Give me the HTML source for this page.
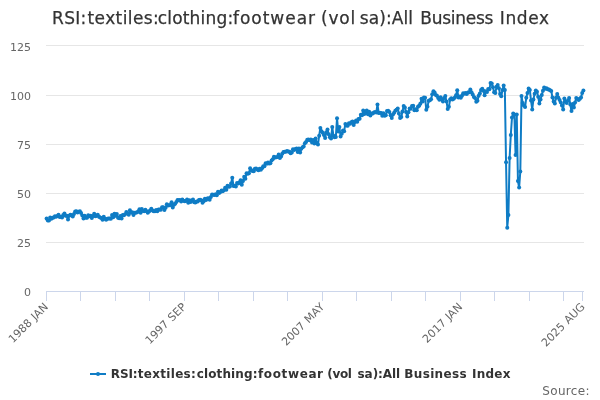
<!DOCTYPE html>
<html><head><meta charset="utf-8"><title>RSI:textiles:clothing:footwear (vol sa):All Business Index</title>
<style>
html,body{margin:0;padding:0;background:#fff;}
svg{display:block;font-family:"DejaVu Sans","Liberation Sans",sans-serif;}
</style></head><body>
<svg width="600" height="400" viewBox="0 0 600 400">
<rect width="600" height="400" fill="#ffffff"/>
<path d="M46 45.5H584M46 95.5H584M46 144.5H584M46 193.5H584M46 242.5H584" stroke="#e6e6e6" stroke-width="1" fill="none"/>
<path d="M46 291.5H584" stroke="#ccd6eb" stroke-width="1" fill="none"/>
<path d="M46.5 291.5V301M80.5 291.5V301M115.5 291.5V301M149.5 291.5V301M184.5 291.5V301M218.5 291.5V301M253.5 291.5V301M287.5 291.5V301M322.5 291.5V301M356.5 291.5V301M391.5 291.5V301M425.5 291.5V301M460.5 291.5V301M494.5 291.5V301M529.5 291.5V301M563.5 291.5V301M582.5 291.5V301" stroke="#ccd6eb" stroke-width="1" fill="none"/>
<g font-size="17" fill="#333333" stroke="#333333" stroke-width="0.25"><text x="52" y="24" letter-spacing="0.333">RSI:</text><text x="87.5" y="24" letter-spacing="0.4">textiles:</text><text x="157.7" y="24" letter-spacing="0.2">clothing:</text><text x="233" y="24" letter-spacing="0.971">footwear</text><text x="321" y="24" letter-spacing="0.767">(vol</text><text x="359.8" y="24" letter-spacing="0.083">sa):All</text><text x="420.3" y="24" letter-spacing="-0.257">Business</text><text x="499.8" y="24" letter-spacing="0.625">Index</text></g>
<g font-size="11" fill="#666666"><text x="31" y="51" text-anchor="end">125</text><text x="31" y="100" text-anchor="end">100</text><text x="31" y="149" text-anchor="end">75</text><text x="31" y="198" text-anchor="end">50</text><text x="31" y="247" text-anchor="end">25</text><text x="31" y="296" text-anchor="end">0</text></g>
<g font-size="11" fill="#666666"><text x="48.8" y="307.5" text-anchor="end" word-spacing="0.5" transform="rotate(-45 48.8 307.5)">1988 JAN</text><text x="186.87" y="307.5" text-anchor="end" word-spacing="0.5" transform="rotate(-45 186.87 307.5)">1997 SEP</text><text x="324.94" y="307.5" text-anchor="end" word-spacing="0.5" transform="rotate(-45 324.94 307.5)">2007 MAY</text><text x="463.01" y="307.5" text-anchor="end" word-spacing="0.5" transform="rotate(-45 463.01 307.5)">2017 JAN</text><text x="585.6" y="307.5" text-anchor="end" word-spacing="0.5" transform="rotate(-45 585.6 307.5)">2025 AUG</text></g>
<path d="M46.6 218.5 L47.79 220.5 L48.98 220.38 L50.17 217.55 L51.36 218.75 L52.55 217.86 L53.74 217.53 L54.93 216.25 L56.12 216.76 L57.31 216.02 L58.5 214.68 L59.69 217.05 L60.88 216.65 L62.07 217.42 L63.26 215.07 L64.45 213.5 L65.64 215.67 L66.83 215.78 L68.02 219.46 L69.21 215.79 L70.4 214.73 L71.59 215.18 L72.78 216.53 L73.97 214.02 L75.16 211.47 L76.35 211.25 L77.54 212.51 L78.73 211.82 L79.92 211.37 L81.11 212.94 L82.3 215.61 L83.49 218.54 L84.68 215.69 L85.87 217.74 L87.06 217.79 L88.25 215.2 L89.44 216.17 L90.63 215.65 L91.83 218.0 L93.02 216.04 L94.21 213.79 L95.4 216.36 L96.59 215.69 L97.78 214.63 L98.97 216.81 L100.16 217.54 L101.35 217.88 L102.54 219.76 L103.73 216.8 L104.92 218.7 L106.11 219.72 L107.3 218.63 L108.49 218.43 L109.68 218.45 L110.87 218.77 L112.06 214.93 L113.25 217.14 L114.44 213.83 L115.63 215.66 L116.82 214.02 L118.01 217.86 L119.2 218.21 L120.39 216.12 L121.58 218.58 L122.77 215.11 L123.96 215.27 L125.15 214.35 L126.34 211.94 L127.53 213.29 L128.72 214.64 L129.91 210.16 L131.1 212.81 L132.29 212.29 L133.48 215.07 L134.67 212.8 L135.87 212.67 L137.06 212.33 L138.25 211.51 L139.44 209.13 L140.63 212.66 L141.82 208.92 L143.01 210.91 L144.2 211.35 L145.39 209.68 L146.58 211.21 L147.77 212.79 L148.96 211.46 L150.15 210.43 L151.34 208.81 L152.53 210.54 L153.72 211.15 L154.91 211.14 L156.1 210.02 L157.29 211.26 L158.48 209.47 L159.67 209.48 L160.86 209.87 L162.05 207.17 L163.24 207.25 L164.43 209.95 L165.62 207.72 L166.81 204.31 L168.0 205.39 L169.19 205.19 L170.38 205.02 L171.57 202.2 L172.76 207.5 L173.95 204.64 L175.14 203.7 L176.33 201.88 L177.52 199.98 L178.71 200.36 L179.9 200.0 L181.1 201.46 L182.29 199.39 L183.48 200.8 L184.67 201.19 L185.86 201.04 L187.05 199.61 L188.24 202.84 L189.43 200.27 L190.62 201.9 L191.81 200.46 L193.0 199.39 L194.19 202.31 L195.38 202.44 L196.57 201.47 L197.76 201.47 L198.95 199.97 L200.14 199.65 L201.33 200.22 L202.52 202.83 L203.71 201.15 L204.9 198.84 L206.09 200.1 L207.28 198.48 L208.47 198.23 L209.66 199.75 L210.85 197.1 L212.04 194.57 L213.23 194.67 L214.42 195.08 L215.61 194.31 L216.8 195.13 L217.99 191.72 L219.18 193.0 L220.37 191.9 L221.56 190.51 L222.75 191.28 L223.94 190.21 L225.13 187.72 L226.33 189.66 L227.52 185.73 L228.71 186.77 L229.9 186.5 L231.09 183.53 L232.28 177.7 L233.47 186.0 L234.66 185.69 L235.85 186.44 L237.04 183.07 L238.23 183.49 L239.42 182.42 L240.61 180.36 L241.8 184.71 L242.99 180.9 L244.18 176.83 L245.37 178.85 L246.56 173.25 L247.75 173.78 L248.94 173.29 L250.13 168.25 L251.32 170.25 L252.51 171.06 L253.7 171.25 L254.89 168.71 L256.08 168.58 L257.27 169.43 L258.46 170.22 L259.65 168.69 L260.84 169.85 L262.03 168.16 L263.22 166.19 L264.41 166.35 L265.6 163.19 L266.79 163.81 L267.98 162.53 L269.17 163.55 L270.37 163.24 L271.56 160.45 L272.75 159.37 L273.94 156.66 L275.13 157.44 L276.32 157.32 L277.51 156.93 L278.7 154.55 L279.89 158.1 L281.08 156.4 L282.27 153.63 L283.46 152.12 L284.65 151.7 L285.84 151.8 L287.03 150.97 L288.22 151.41 L289.41 151.85 L290.6 153.33 L291.79 152.42 L292.98 149.36 L294.17 150.08 L295.36 148.92 L296.55 148.54 L297.74 152.11 L298.93 148.39 L300.12 152.4 L301.31 148.85 L302.5 147.37 L303.69 146.6 L304.88 143.21 L306.07 141.98 L307.26 139.68 L308.45 139.53 L309.64 140.19 L310.83 139.39 L312.02 142.61 L313.21 139.89 L314.4 143.52 L315.6 138.43 L316.79 143.34 L317.98 144.5 L319.17 135.73 L320.36 128.0 L321.55 131.16 L322.74 132.82 L323.93 135.08 L325.12 138.0 L326.31 132.31 L327.5 129.5 L328.69 134.21 L329.88 137.15 L331.07 138.5 L332.26 127.0 L333.45 135.84 L334.64 137.36 L335.83 137.0 L337.02 118.2 L338.21 131.54 L339.4 127.0 L340.59 136.47 L341.78 133.64 L342.97 130.53 L344.16 131.2 L345.35 123.92 L346.54 125.41 L347.73 125.76 L348.92 123.28 L350.11 123.7 L351.3 122.26 L352.49 121.52 L353.68 125.09 L354.87 122.02 L356.06 120.39 L357.25 121.85 L358.44 118.92 L359.63 118.74 L360.83 114.65 L362.02 115.21 L363.21 110.44 L364.4 114.11 L365.59 112.46 L366.78 110.5 L367.97 114.19 L369.16 111.64 L370.35 115.55 L371.54 113.61 L372.73 113.61 L373.92 112.39 L375.11 112.0 L376.3 112.5 L377.49 104.5 L378.68 113.0 L379.87 112.8 L381.06 113.04 L382.25 115.7 L383.44 113.24 L384.63 115.73 L385.82 115.33 L387.01 111.04 L388.2 110.65 L389.39 112.05 L390.58 115.14 L391.77 118.0 L392.96 114.53 L394.15 112.83 L395.34 110.7 L396.53 109.64 L397.72 108.41 L398.91 113.4 L400.1 118.0 L401.29 117.08 L402.48 111.42 L403.67 106.0 L404.87 107.59 L406.06 111.88 L407.25 116.5 L408.44 112.27 L409.63 108.55 L410.82 108.73 L412.01 106.0 L413.2 105.71 L414.39 110.32 L415.58 109.21 L416.77 110.24 L417.96 106.64 L419.15 105.72 L420.34 103.73 L421.53 98.87 L422.72 101.56 L423.91 97.39 L425.1 97.85 L426.29 109.7 L427.48 106.86 L428.67 100.8 L429.86 100.37 L431.05 99.23 L432.24 94.15 L433.43 91.16 L434.62 92.5 L435.81 95.06 L437.0 95.64 L438.19 98.04 L439.38 99.63 L440.57 97.23 L441.76 99.43 L442.95 101.47 L444.14 97.96 L445.33 96.11 L446.52 101.45 L447.71 109.0 L448.9 106.84 L450.1 99.54 L451.29 98.28 L452.48 99.6 L453.67 98.84 L454.86 97.43 L456.05 95.17 L457.24 90.2 L458.43 97.5 L459.62 96.39 L460.81 97.8 L462.0 95.82 L463.19 93.13 L464.38 93.85 L465.57 93.11 L466.76 93.98 L467.95 92.41 L469.14 92.22 L470.33 89.59 L471.52 92.28 L472.71 94.62 L473.9 97.11 L475.09 98.02 L476.28 101.76 L477.47 100.7 L478.66 95.71 L479.85 93.4 L481.04 89.89 L482.23 88.7 L483.42 90.69 L484.61 95.22 L485.8 91.37 L486.99 92.11 L488.18 89.02 L489.37 89.36 L490.56 83.12 L491.75 83.5 L492.94 87.14 L494.13 92.28 L495.33 92.95 L496.52 86.76 L497.71 85.0 L498.9 88.26 L500.09 94.12 L501.28 96.2 L502.47 90.0 L503.66 85.5 L504.85 89.98 L506.04 162.2 L507.23 227.74 L508.42 214.94 L509.61 158.07 L510.8 135.04 L511.99 117.53 L513.18 113.59 L514.37 114.38 L515.56 154.92 L516.75 114.58 L517.94 181.1 L519.13 187.59 L520.32 171.45 L521.51 96.08 L522.7 102.97 L523.89 105.52 L525.08 107.1 L526.27 97.65 L527.46 92.93 L528.65 88.4 L529.84 89.98 L531.03 100.6 L532.22 109.46 L533.41 99.62 L534.6 93.72 L535.79 90.57 L536.98 91.75 L538.17 96.67 L539.37 103.56 L540.56 99.62 L541.75 95.09 L542.94 90.76 L544.13 87.42 L545.32 88.8 L546.51 88.21 L547.7 89.19 L548.89 89.58 L550.08 90.37 L551.27 90.96 L552.46 97.46 L553.65 101.59 L554.84 103.56 L556.03 97.65 L557.22 94.11 L558.41 97.65 L559.6 100.01 L560.79 102.57 L561.98 105.52 L563.17 109.46 L564.36 98.44 L565.55 101.59 L566.74 102.97 L567.93 100.6 L569.12 98.05 L570.31 104.54 L571.5 111.03 L572.69 103.95 L573.88 107.49 L575.07 102.57 L576.26 98.05 L577.45 99.03 L578.64 100.01 L579.83 98.64 L581.02 97.46 L582.21 92.93 L583.4 90.57" stroke="#0f7cc5" stroke-width="2" fill="none" stroke-linejoin="round" stroke-linecap="round"/>
<g fill="#0f7cc5"><circle cx="46.6" cy="218.5" r="2"/><circle cx="47.79" cy="220.5" r="2"/><circle cx="48.98" cy="220.38" r="2"/><circle cx="50.17" cy="217.55" r="2"/><circle cx="51.36" cy="218.75" r="2"/><circle cx="52.55" cy="217.86" r="2"/><circle cx="53.74" cy="217.53" r="2"/><circle cx="54.93" cy="216.25" r="2"/><circle cx="56.12" cy="216.76" r="2"/><circle cx="57.31" cy="216.02" r="2"/><circle cx="58.5" cy="214.68" r="2"/><circle cx="59.69" cy="217.05" r="2"/><circle cx="60.88" cy="216.65" r="2"/><circle cx="62.07" cy="217.42" r="2"/><circle cx="63.26" cy="215.07" r="2"/><circle cx="64.45" cy="213.5" r="2"/><circle cx="65.64" cy="215.67" r="2"/><circle cx="66.83" cy="215.78" r="2"/><circle cx="68.02" cy="219.46" r="2"/><circle cx="69.21" cy="215.79" r="2"/><circle cx="70.4" cy="214.73" r="2"/><circle cx="71.59" cy="215.18" r="2"/><circle cx="72.78" cy="216.53" r="2"/><circle cx="73.97" cy="214.02" r="2"/><circle cx="75.16" cy="211.47" r="2"/><circle cx="76.35" cy="211.25" r="2"/><circle cx="77.54" cy="212.51" r="2"/><circle cx="78.73" cy="211.82" r="2"/><circle cx="79.92" cy="211.37" r="2"/><circle cx="81.11" cy="212.94" r="2"/><circle cx="82.3" cy="215.61" r="2"/><circle cx="83.49" cy="218.54" r="2"/><circle cx="84.68" cy="215.69" r="2"/><circle cx="85.87" cy="217.74" r="2"/><circle cx="87.06" cy="217.79" r="2"/><circle cx="88.25" cy="215.2" r="2"/><circle cx="89.44" cy="216.17" r="2"/><circle cx="90.63" cy="215.65" r="2"/><circle cx="91.83" cy="218.0" r="2"/><circle cx="93.02" cy="216.04" r="2"/><circle cx="94.21" cy="213.79" r="2"/><circle cx="95.4" cy="216.36" r="2"/><circle cx="96.59" cy="215.69" r="2"/><circle cx="97.78" cy="214.63" r="2"/><circle cx="98.97" cy="216.81" r="2"/><circle cx="100.16" cy="217.54" r="2"/><circle cx="101.35" cy="217.88" r="2"/><circle cx="102.54" cy="219.76" r="2"/><circle cx="103.73" cy="216.8" r="2"/><circle cx="104.92" cy="218.7" r="2"/><circle cx="106.11" cy="219.72" r="2"/><circle cx="107.3" cy="218.63" r="2"/><circle cx="108.49" cy="218.43" r="2"/><circle cx="109.68" cy="218.45" r="2"/><circle cx="110.87" cy="218.77" r="2"/><circle cx="112.06" cy="214.93" r="2"/><circle cx="113.25" cy="217.14" r="2"/><circle cx="114.44" cy="213.83" r="2"/><circle cx="115.63" cy="215.66" r="2"/><circle cx="116.82" cy="214.02" r="2"/><circle cx="118.01" cy="217.86" r="2"/><circle cx="119.2" cy="218.21" r="2"/><circle cx="120.39" cy="216.12" r="2"/><circle cx="121.58" cy="218.58" r="2"/><circle cx="122.77" cy="215.11" r="2"/><circle cx="123.96" cy="215.27" r="2"/><circle cx="125.15" cy="214.35" r="2"/><circle cx="126.34" cy="211.94" r="2"/><circle cx="127.53" cy="213.29" r="2"/><circle cx="128.72" cy="214.64" r="2"/><circle cx="129.91" cy="210.16" r="2"/><circle cx="131.1" cy="212.81" r="2"/><circle cx="132.29" cy="212.29" r="2"/><circle cx="133.48" cy="215.07" r="2"/><circle cx="134.67" cy="212.8" r="2"/><circle cx="135.87" cy="212.67" r="2"/><circle cx="137.06" cy="212.33" r="2"/><circle cx="138.25" cy="211.51" r="2"/><circle cx="139.44" cy="209.13" r="2"/><circle cx="140.63" cy="212.66" r="2"/><circle cx="141.82" cy="208.92" r="2"/><circle cx="143.01" cy="210.91" r="2"/><circle cx="144.2" cy="211.35" r="2"/><circle cx="145.39" cy="209.68" r="2"/><circle cx="146.58" cy="211.21" r="2"/><circle cx="147.77" cy="212.79" r="2"/><circle cx="148.96" cy="211.46" r="2"/><circle cx="150.15" cy="210.43" r="2"/><circle cx="151.34" cy="208.81" r="2"/><circle cx="152.53" cy="210.54" r="2"/><circle cx="153.72" cy="211.15" r="2"/><circle cx="154.91" cy="211.14" r="2"/><circle cx="156.1" cy="210.02" r="2"/><circle cx="157.29" cy="211.26" r="2"/><circle cx="158.48" cy="209.47" r="2"/><circle cx="159.67" cy="209.48" r="2"/><circle cx="160.86" cy="209.87" r="2"/><circle cx="162.05" cy="207.17" r="2"/><circle cx="163.24" cy="207.25" r="2"/><circle cx="164.43" cy="209.95" r="2"/><circle cx="165.62" cy="207.72" r="2"/><circle cx="166.81" cy="204.31" r="2"/><circle cx="168.0" cy="205.39" r="2"/><circle cx="169.19" cy="205.19" r="2"/><circle cx="170.38" cy="205.02" r="2"/><circle cx="171.57" cy="202.2" r="2"/><circle cx="172.76" cy="207.5" r="2"/><circle cx="173.95" cy="204.64" r="2"/><circle cx="175.14" cy="203.7" r="2"/><circle cx="176.33" cy="201.88" r="2"/><circle cx="177.52" cy="199.98" r="2"/><circle cx="178.71" cy="200.36" r="2"/><circle cx="179.9" cy="200.0" r="2"/><circle cx="181.1" cy="201.46" r="2"/><circle cx="182.29" cy="199.39" r="2"/><circle cx="183.48" cy="200.8" r="2"/><circle cx="184.67" cy="201.19" r="2"/><circle cx="185.86" cy="201.04" r="2"/><circle cx="187.05" cy="199.61" r="2"/><circle cx="188.24" cy="202.84" r="2"/><circle cx="189.43" cy="200.27" r="2"/><circle cx="190.62" cy="201.9" r="2"/><circle cx="191.81" cy="200.46" r="2"/><circle cx="193.0" cy="199.39" r="2"/><circle cx="194.19" cy="202.31" r="2"/><circle cx="195.38" cy="202.44" r="2"/><circle cx="196.57" cy="201.47" r="2"/><circle cx="197.76" cy="201.47" r="2"/><circle cx="198.95" cy="199.97" r="2"/><circle cx="200.14" cy="199.65" r="2"/><circle cx="201.33" cy="200.22" r="2"/><circle cx="202.52" cy="202.83" r="2"/><circle cx="203.71" cy="201.15" r="2"/><circle cx="204.9" cy="198.84" r="2"/><circle cx="206.09" cy="200.1" r="2"/><circle cx="207.28" cy="198.48" r="2"/><circle cx="208.47" cy="198.23" r="2"/><circle cx="209.66" cy="199.75" r="2"/><circle cx="210.85" cy="197.1" r="2"/><circle cx="212.04" cy="194.57" r="2"/><circle cx="213.23" cy="194.67" r="2"/><circle cx="214.42" cy="195.08" r="2"/><circle cx="215.61" cy="194.31" r="2"/><circle cx="216.8" cy="195.13" r="2"/><circle cx="217.99" cy="191.72" r="2"/><circle cx="219.18" cy="193.0" r="2"/><circle cx="220.37" cy="191.9" r="2"/><circle cx="221.56" cy="190.51" r="2"/><circle cx="222.75" cy="191.28" r="2"/><circle cx="223.94" cy="190.21" r="2"/><circle cx="225.13" cy="187.72" r="2"/><circle cx="226.33" cy="189.66" r="2"/><circle cx="227.52" cy="185.73" r="2"/><circle cx="228.71" cy="186.77" r="2"/><circle cx="229.9" cy="186.5" r="2"/><circle cx="231.09" cy="183.53" r="2"/><circle cx="232.28" cy="177.7" r="2"/><circle cx="233.47" cy="186.0" r="2"/><circle cx="234.66" cy="185.69" r="2"/><circle cx="235.85" cy="186.44" r="2"/><circle cx="237.04" cy="183.07" r="2"/><circle cx="238.23" cy="183.49" r="2"/><circle cx="239.42" cy="182.42" r="2"/><circle cx="240.61" cy="180.36" r="2"/><circle cx="241.8" cy="184.71" r="2"/><circle cx="242.99" cy="180.9" r="2"/><circle cx="244.18" cy="176.83" r="2"/><circle cx="245.37" cy="178.85" r="2"/><circle cx="246.56" cy="173.25" r="2"/><circle cx="247.75" cy="173.78" r="2"/><circle cx="248.94" cy="173.29" r="2"/><circle cx="250.13" cy="168.25" r="2"/><circle cx="251.32" cy="170.25" r="2"/><circle cx="252.51" cy="171.06" r="2"/><circle cx="253.7" cy="171.25" r="2"/><circle cx="254.89" cy="168.71" r="2"/><circle cx="256.08" cy="168.58" r="2"/><circle cx="257.27" cy="169.43" r="2"/><circle cx="258.46" cy="170.22" r="2"/><circle cx="259.65" cy="168.69" r="2"/><circle cx="260.84" cy="169.85" r="2"/><circle cx="262.03" cy="168.16" r="2"/><circle cx="263.22" cy="166.19" r="2"/><circle cx="264.41" cy="166.35" r="2"/><circle cx="265.6" cy="163.19" r="2"/><circle cx="266.79" cy="163.81" r="2"/><circle cx="267.98" cy="162.53" r="2"/><circle cx="269.17" cy="163.55" r="2"/><circle cx="270.37" cy="163.24" r="2"/><circle cx="271.56" cy="160.45" r="2"/><circle cx="272.75" cy="159.37" r="2"/><circle cx="273.94" cy="156.66" r="2"/><circle cx="275.13" cy="157.44" r="2"/><circle cx="276.32" cy="157.32" r="2"/><circle cx="277.51" cy="156.93" r="2"/><circle cx="278.7" cy="154.55" r="2"/><circle cx="279.89" cy="158.1" r="2"/><circle cx="281.08" cy="156.4" r="2"/><circle cx="282.27" cy="153.63" r="2"/><circle cx="283.46" cy="152.12" r="2"/><circle cx="284.65" cy="151.7" r="2"/><circle cx="285.84" cy="151.8" r="2"/><circle cx="287.03" cy="150.97" r="2"/><circle cx="288.22" cy="151.41" r="2"/><circle cx="289.41" cy="151.85" r="2"/><circle cx="290.6" cy="153.33" r="2"/><circle cx="291.79" cy="152.42" r="2"/><circle cx="292.98" cy="149.36" r="2"/><circle cx="294.17" cy="150.08" r="2"/><circle cx="295.36" cy="148.92" r="2"/><circle cx="296.55" cy="148.54" r="2"/><circle cx="297.74" cy="152.11" r="2"/><circle cx="298.93" cy="148.39" r="2"/><circle cx="300.12" cy="152.4" r="2"/><circle cx="301.31" cy="148.85" r="2"/><circle cx="302.5" cy="147.37" r="2"/><circle cx="303.69" cy="146.6" r="2"/><circle cx="304.88" cy="143.21" r="2"/><circle cx="306.07" cy="141.98" r="2"/><circle cx="307.26" cy="139.68" r="2"/><circle cx="308.45" cy="139.53" r="2"/><circle cx="309.64" cy="140.19" r="2"/><circle cx="310.83" cy="139.39" r="2"/><circle cx="312.02" cy="142.61" r="2"/><circle cx="313.21" cy="139.89" r="2"/><circle cx="314.4" cy="143.52" r="2"/><circle cx="315.6" cy="138.43" r="2"/><circle cx="316.79" cy="143.34" r="2"/><circle cx="317.98" cy="144.5" r="2"/><circle cx="319.17" cy="135.73" r="2"/><circle cx="320.36" cy="128.0" r="2"/><circle cx="321.55" cy="131.16" r="2"/><circle cx="322.74" cy="132.82" r="2"/><circle cx="323.93" cy="135.08" r="2"/><circle cx="325.12" cy="138.0" r="2"/><circle cx="326.31" cy="132.31" r="2"/><circle cx="327.5" cy="129.5" r="2"/><circle cx="328.69" cy="134.21" r="2"/><circle cx="329.88" cy="137.15" r="2"/><circle cx="331.07" cy="138.5" r="2"/><circle cx="332.26" cy="127.0" r="2"/><circle cx="333.45" cy="135.84" r="2"/><circle cx="334.64" cy="137.36" r="2"/><circle cx="335.83" cy="137.0" r="2"/><circle cx="337.02" cy="118.2" r="2"/><circle cx="338.21" cy="131.54" r="2"/><circle cx="339.4" cy="127.0" r="2"/><circle cx="340.59" cy="136.47" r="2"/><circle cx="341.78" cy="133.64" r="2"/><circle cx="342.97" cy="130.53" r="2"/><circle cx="344.16" cy="131.2" r="2"/><circle cx="345.35" cy="123.92" r="2"/><circle cx="346.54" cy="125.41" r="2"/><circle cx="347.73" cy="125.76" r="2"/><circle cx="348.92" cy="123.28" r="2"/><circle cx="350.11" cy="123.7" r="2"/><circle cx="351.3" cy="122.26" r="2"/><circle cx="352.49" cy="121.52" r="2"/><circle cx="353.68" cy="125.09" r="2"/><circle cx="354.87" cy="122.02" r="2"/><circle cx="356.06" cy="120.39" r="2"/><circle cx="357.25" cy="121.85" r="2"/><circle cx="358.44" cy="118.92" r="2"/><circle cx="359.63" cy="118.74" r="2"/><circle cx="360.83" cy="114.65" r="2"/><circle cx="362.02" cy="115.21" r="2"/><circle cx="363.21" cy="110.44" r="2"/><circle cx="364.4" cy="114.11" r="2"/><circle cx="365.59" cy="112.46" r="2"/><circle cx="366.78" cy="110.5" r="2"/><circle cx="367.97" cy="114.19" r="2"/><circle cx="369.16" cy="111.64" r="2"/><circle cx="370.35" cy="115.55" r="2"/><circle cx="371.54" cy="113.61" r="2"/><circle cx="372.73" cy="113.61" r="2"/><circle cx="373.92" cy="112.39" r="2"/><circle cx="375.11" cy="112.0" r="2"/><circle cx="376.3" cy="112.5" r="2"/><circle cx="377.49" cy="104.5" r="2"/><circle cx="378.68" cy="113.0" r="2"/><circle cx="379.87" cy="112.8" r="2"/><circle cx="381.06" cy="113.04" r="2"/><circle cx="382.25" cy="115.7" r="2"/><circle cx="383.44" cy="113.24" r="2"/><circle cx="384.63" cy="115.73" r="2"/><circle cx="385.82" cy="115.33" r="2"/><circle cx="387.01" cy="111.04" r="2"/><circle cx="388.2" cy="110.65" r="2"/><circle cx="389.39" cy="112.05" r="2"/><circle cx="390.58" cy="115.14" r="2"/><circle cx="391.77" cy="118.0" r="2"/><circle cx="392.96" cy="114.53" r="2"/><circle cx="394.15" cy="112.83" r="2"/><circle cx="395.34" cy="110.7" r="2"/><circle cx="396.53" cy="109.64" r="2"/><circle cx="397.72" cy="108.41" r="2"/><circle cx="398.91" cy="113.4" r="2"/><circle cx="400.1" cy="118.0" r="2"/><circle cx="401.29" cy="117.08" r="2"/><circle cx="402.48" cy="111.42" r="2"/><circle cx="403.67" cy="106.0" r="2"/><circle cx="404.87" cy="107.59" r="2"/><circle cx="406.06" cy="111.88" r="2"/><circle cx="407.25" cy="116.5" r="2"/><circle cx="408.44" cy="112.27" r="2"/><circle cx="409.63" cy="108.55" r="2"/><circle cx="410.82" cy="108.73" r="2"/><circle cx="412.01" cy="106.0" r="2"/><circle cx="413.2" cy="105.71" r="2"/><circle cx="414.39" cy="110.32" r="2"/><circle cx="415.58" cy="109.21" r="2"/><circle cx="416.77" cy="110.24" r="2"/><circle cx="417.96" cy="106.64" r="2"/><circle cx="419.15" cy="105.72" r="2"/><circle cx="420.34" cy="103.73" r="2"/><circle cx="421.53" cy="98.87" r="2"/><circle cx="422.72" cy="101.56" r="2"/><circle cx="423.91" cy="97.39" r="2"/><circle cx="425.1" cy="97.85" r="2"/><circle cx="426.29" cy="109.7" r="2"/><circle cx="427.48" cy="106.86" r="2"/><circle cx="428.67" cy="100.8" r="2"/><circle cx="429.86" cy="100.37" r="2"/><circle cx="431.05" cy="99.23" r="2"/><circle cx="432.24" cy="94.15" r="2"/><circle cx="433.43" cy="91.16" r="2"/><circle cx="434.62" cy="92.5" r="2"/><circle cx="435.81" cy="95.06" r="2"/><circle cx="437.0" cy="95.64" r="2"/><circle cx="438.19" cy="98.04" r="2"/><circle cx="439.38" cy="99.63" r="2"/><circle cx="440.57" cy="97.23" r="2"/><circle cx="441.76" cy="99.43" r="2"/><circle cx="442.95" cy="101.47" r="2"/><circle cx="444.14" cy="97.96" r="2"/><circle cx="445.33" cy="96.11" r="2"/><circle cx="446.52" cy="101.45" r="2"/><circle cx="447.71" cy="109.0" r="2"/><circle cx="448.9" cy="106.84" r="2"/><circle cx="450.1" cy="99.54" r="2"/><circle cx="451.29" cy="98.28" r="2"/><circle cx="452.48" cy="99.6" r="2"/><circle cx="453.67" cy="98.84" r="2"/><circle cx="454.86" cy="97.43" r="2"/><circle cx="456.05" cy="95.17" r="2"/><circle cx="457.24" cy="90.2" r="2"/><circle cx="458.43" cy="97.5" r="2"/><circle cx="459.62" cy="96.39" r="2"/><circle cx="460.81" cy="97.8" r="2"/><circle cx="462.0" cy="95.82" r="2"/><circle cx="463.19" cy="93.13" r="2"/><circle cx="464.38" cy="93.85" r="2"/><circle cx="465.57" cy="93.11" r="2"/><circle cx="466.76" cy="93.98" r="2"/><circle cx="467.95" cy="92.41" r="2"/><circle cx="469.14" cy="92.22" r="2"/><circle cx="470.33" cy="89.59" r="2"/><circle cx="471.52" cy="92.28" r="2"/><circle cx="472.71" cy="94.62" r="2"/><circle cx="473.9" cy="97.11" r="2"/><circle cx="475.09" cy="98.02" r="2"/><circle cx="476.28" cy="101.76" r="2"/><circle cx="477.47" cy="100.7" r="2"/><circle cx="478.66" cy="95.71" r="2"/><circle cx="479.85" cy="93.4" r="2"/><circle cx="481.04" cy="89.89" r="2"/><circle cx="482.23" cy="88.7" r="2"/><circle cx="483.42" cy="90.69" r="2"/><circle cx="484.61" cy="95.22" r="2"/><circle cx="485.8" cy="91.37" r="2"/><circle cx="486.99" cy="92.11" r="2"/><circle cx="488.18" cy="89.02" r="2"/><circle cx="489.37" cy="89.36" r="2"/><circle cx="490.56" cy="83.12" r="2"/><circle cx="491.75" cy="83.5" r="2"/><circle cx="492.94" cy="87.14" r="2"/><circle cx="494.13" cy="92.28" r="2"/><circle cx="495.33" cy="92.95" r="2"/><circle cx="496.52" cy="86.76" r="2"/><circle cx="497.71" cy="85.0" r="2"/><circle cx="498.9" cy="88.26" r="2"/><circle cx="500.09" cy="94.12" r="2"/><circle cx="501.28" cy="96.2" r="2"/><circle cx="502.47" cy="90.0" r="2"/><circle cx="503.66" cy="85.5" r="2"/><circle cx="504.85" cy="89.98" r="2"/><circle cx="506.04" cy="162.2" r="2"/><circle cx="507.23" cy="227.74" r="2"/><circle cx="508.42" cy="214.94" r="2"/><circle cx="509.61" cy="158.07" r="2"/><circle cx="510.8" cy="135.04" r="2"/><circle cx="511.99" cy="117.53" r="2"/><circle cx="513.18" cy="113.59" r="2"/><circle cx="514.37" cy="114.38" r="2"/><circle cx="515.56" cy="154.92" r="2"/><circle cx="516.75" cy="114.58" r="2"/><circle cx="517.94" cy="181.1" r="2"/><circle cx="519.13" cy="187.59" r="2"/><circle cx="520.32" cy="171.45" r="2"/><circle cx="521.51" cy="96.08" r="2"/><circle cx="522.7" cy="102.97" r="2"/><circle cx="523.89" cy="105.52" r="2"/><circle cx="525.08" cy="107.1" r="2"/><circle cx="526.27" cy="97.65" r="2"/><circle cx="527.46" cy="92.93" r="2"/><circle cx="528.65" cy="88.4" r="2"/><circle cx="529.84" cy="89.98" r="2"/><circle cx="531.03" cy="100.6" r="2"/><circle cx="532.22" cy="109.46" r="2"/><circle cx="533.41" cy="99.62" r="2"/><circle cx="534.6" cy="93.72" r="2"/><circle cx="535.79" cy="90.57" r="2"/><circle cx="536.98" cy="91.75" r="2"/><circle cx="538.17" cy="96.67" r="2"/><circle cx="539.37" cy="103.56" r="2"/><circle cx="540.56" cy="99.62" r="2"/><circle cx="541.75" cy="95.09" r="2"/><circle cx="542.94" cy="90.76" r="2"/><circle cx="544.13" cy="87.42" r="2"/><circle cx="545.32" cy="88.8" r="2"/><circle cx="546.51" cy="88.21" r="2"/><circle cx="547.7" cy="89.19" r="2"/><circle cx="548.89" cy="89.58" r="2"/><circle cx="550.08" cy="90.37" r="2"/><circle cx="551.27" cy="90.96" r="2"/><circle cx="552.46" cy="97.46" r="2"/><circle cx="553.65" cy="101.59" r="2"/><circle cx="554.84" cy="103.56" r="2"/><circle cx="556.03" cy="97.65" r="2"/><circle cx="557.22" cy="94.11" r="2"/><circle cx="558.41" cy="97.65" r="2"/><circle cx="559.6" cy="100.01" r="2"/><circle cx="560.79" cy="102.57" r="2"/><circle cx="561.98" cy="105.52" r="2"/><circle cx="563.17" cy="109.46" r="2"/><circle cx="564.36" cy="98.44" r="2"/><circle cx="565.55" cy="101.59" r="2"/><circle cx="566.74" cy="102.97" r="2"/><circle cx="567.93" cy="100.6" r="2"/><circle cx="569.12" cy="98.05" r="2"/><circle cx="570.31" cy="104.54" r="2"/><circle cx="571.5" cy="111.03" r="2"/><circle cx="572.69" cy="103.95" r="2"/><circle cx="573.88" cy="107.49" r="2"/><circle cx="575.07" cy="102.57" r="2"/><circle cx="576.26" cy="98.05" r="2"/><circle cx="577.45" cy="99.03" r="2"/><circle cx="578.64" cy="100.01" r="2"/><circle cx="579.83" cy="98.64" r="2"/><circle cx="581.02" cy="97.46" r="2"/><circle cx="582.21" cy="92.93" r="2"/><circle cx="583.4" cy="90.57" r="2"/></g>
<path d="M90 374H106" stroke="#0f7cc5" stroke-width="2" fill="none"/>
<circle cx="98" cy="374" r="2" fill="#0f7cc5"/>
<g font-size="12" font-weight="bold" fill="#333333"><text x="110.8" y="378" letter-spacing="-0.1">RSI:</text><text x="137.8" y="378" letter-spacing="0.3">textiles:</text><text x="196.8" y="378" letter-spacing="0.112">clothing:</text><text x="258" y="378" letter-spacing="0.62">footwear</text><text x="327.3" y="378" letter-spacing="-0.333">(vol</text><text x="357.5" y="378" letter-spacing="-0.05">sa):All</text><text x="404.3" y="378" letter-spacing="0.343">Business</text><text x="472" y="378" letter-spacing="0.25">Index</text></g>
<text x="542.3" y="394.7" letter-spacing="0.33" font-size="12" fill="#666666">Source:</text>
</svg>
</body></html>
